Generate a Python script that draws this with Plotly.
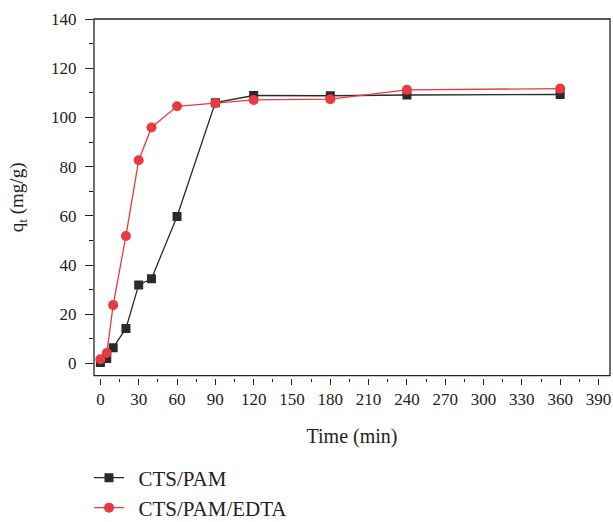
import plotly.graph_objects as go

time_pam = [0, 5, 10, 20, 30, 40, 60, 90, 120, 180, 240, 360]
q_pam = [0.4, 2.0, 6.4, 14.2, 31.9, 34.4, 59.7, 106.0, 108.9, 108.8, 109.1, 109.3]

time_edta = [0, 5, 10, 20, 30, 40, 60, 90, 120, 180, 240, 360]
q_edta = [1.7, 4.2, 23.7, 51.8, 82.6, 95.9, 104.5, 105.8, 107.1, 107.4, 111.2, 111.7]

names = ["CTS/PAM", "CTS/PAM/EDTA"]
black = "#2a2a2a"
red = "#ea3a40"
FONT = "Liberation Serif"
PAD = "\u00a0\u2009"

fig = go.Figure()
fig.add_trace(go.Scatter(
    x=time_pam, y=q_pam, mode="lines+markers", name=PAD + names[0],
    line=dict(color=black, width=1.3),
    marker=dict(symbol="square", size=9, color=black),
    legend="legend",
))
fig.add_trace(go.Scatter(
    x=time_edta, y=q_edta, mode="lines+markers", name=PAD + names[1],
    line=dict(color=red, width=1.3),
    marker=dict(symbol="circle", size=10, color=red),
    legend="legend2",
))

ml, mt = 94, 19
plot_bottom = 378
H, W = 522, 613
mb = H - plot_bottom
ph = plot_bottom - mt
pw = W - ml - 3
ydom0 = (plot_bottom - 375.7) / ph

def ypaper(px):
    return (plot_bottom - px) / ph

lx = -5 / pw

fig.update_layout(
    width=W, height=H,
    margin=dict(l=ml, r=3, t=mt, b=mb, autoexpand=False),
    paper_bgcolor="white", plot_bgcolor="white",
    font=dict(family=FONT, color="#222222", size=17),
    showlegend=True,
    legend=dict(x=lx, y=ypaper(478), xanchor="left", yanchor="middle",
                font=dict(size=21, family=FONT), bgcolor="rgba(0,0,0,0)"),
    legend2=dict(x=lx, y=ypaper(508), xanchor="left", yanchor="middle",
                 font=dict(size=21, family=FONT), bgcolor="rgba(0,0,0,0)"),
    xaxis=dict(
        range=[-5, 399], anchor="free", position=0, automargin=False,
        tick0=0, dtick=30, ticks="outside", ticklen=6, tickwidth=1.2,
        tickcolor="#222222", showline=False, showgrid=False, zeroline=False,
        minor=dict(dtick=15, ticks="outside", ticklen=3, tickwidth=1.2,
                   tickcolor="#222222", showgrid=False),
        tickfont=dict(size=17, family=FONT),
        title=dict(text="Time (min)", font=dict(size=20, family=FONT), standoff=20),
    ),
    yaxis=dict(
        range=[-5, 140], domain=[ydom0, 1], automargin=False,
        tick0=0, dtick=20, ticks="outside", ticklen=8, tickwidth=1.2,
        tickcolor="#222222", showline=False, showgrid=False, zeroline=False,
        minor=dict(dtick=10, ticks="outside", ticklen=4, tickwidth=1.2,
                   tickcolor="#222222", showgrid=False),
        tickfont=dict(size=17, family=FONT), ticklabelstandoff=5,
        title=dict(text="q<sub>t</sub> (mg/g)", font=dict(size=19, family=FONT), standoff=22),
    ),
    shapes=[dict(type="rect", xref="x domain", yref="y domain",
                 x0=0, x1=1, y0=0, y1=1,
                 line=dict(color="#222222", width=1.3), layer="above")],
)

fig.write_html("out.html")
